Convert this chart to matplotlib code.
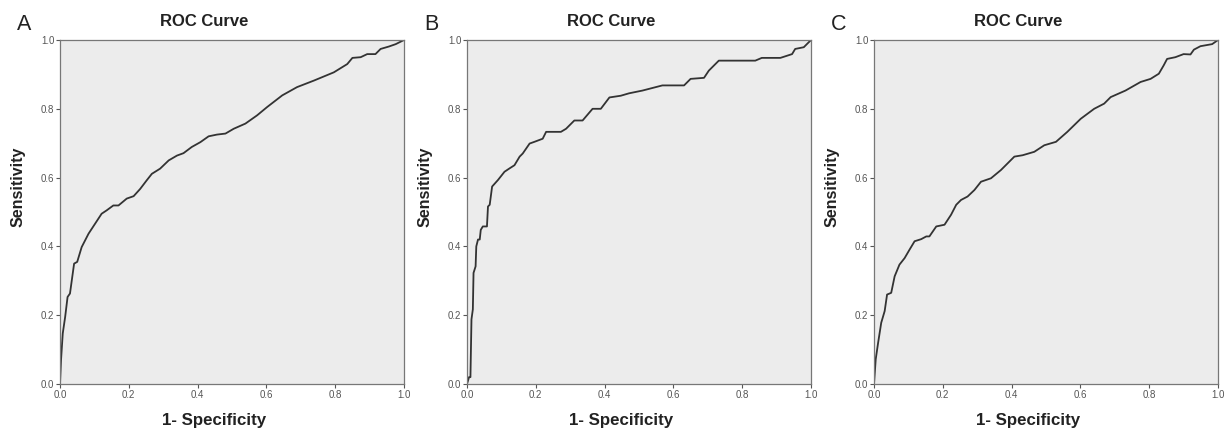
import matplotlib
matplotlib.use("Agg")
import matplotlib.pyplot as plt

plt.rcParams['font.family'] = ['Liberation Sans', 'DejaVu Sans']

# Panel A: 1-specificity, sensitivity
fpr_a = [0, 0.003, 0.008, 0.015, 0.022, 0.029, 0.037, 0.041, 0.05, 0.063, 0.083, 0.102,
         0.121, 0.136, 0.155, 0.17, 0.194, 0.214, 0.233, 0.252, 0.267, 0.291, 0.316, 0.34,
         0.359, 0.383, 0.408, 0.432, 0.456, 0.481, 0.505, 0.539, 0.573, 0.602, 0.646, 0.689,
         0.738, 0.796, 0.835, 0.85, 0.874, 0.893, 0.917, 0.932, 0.956, 0.976, 1.0]
tpr_a = [0, 0.07, 0.147, 0.195, 0.253, 0.263, 0.321, 0.35, 0.355, 0.398, 0.437, 0.466,
         0.495, 0.505, 0.519, 0.519, 0.539, 0.546, 0.567, 0.592, 0.611, 0.626, 0.65, 0.664,
         0.671, 0.689, 0.703, 0.72, 0.725, 0.728, 0.742, 0.757, 0.781, 0.805, 0.839, 0.863,
         0.882, 0.906, 0.93, 0.948, 0.95, 0.959, 0.959, 0.974, 0.981, 0.988, 1.0]

# Panel B
fpr_b = [0, 0.006, 0.01, 0.013, 0.017, 0.019, 0.025, 0.027, 0.032, 0.037, 0.04, 0.046,
         0.058, 0.061, 0.066, 0.073, 0.09, 0.109, 0.124, 0.138, 0.153, 0.162, 0.182, 0.196,
         0.22, 0.23, 0.273, 0.288, 0.312, 0.336, 0.365, 0.389, 0.414, 0.447, 0.471, 0.51,
         0.568, 0.631, 0.65, 0.689, 0.703, 0.718, 0.732, 0.838, 0.857, 0.911, 0.945, 0.954,
         0.979, 1.0]
tpr_b = [0, 0.02, 0.02, 0.188, 0.217, 0.323, 0.342, 0.4, 0.42, 0.42, 0.448, 0.458,
         0.458, 0.516, 0.521, 0.574, 0.593, 0.617, 0.627, 0.636, 0.661, 0.67, 0.699, 0.704,
         0.713, 0.733, 0.733, 0.742, 0.766, 0.766, 0.8, 0.8, 0.833, 0.838, 0.845, 0.853,
         0.868, 0.868, 0.887, 0.89, 0.911, 0.926, 0.94, 0.94, 0.948, 0.948, 0.959, 0.974,
         0.979, 1.0]

# Panel C
fpr_c = [0, 0.005, 0.012, 0.021, 0.031, 0.038, 0.05, 0.06, 0.074, 0.089, 0.103, 0.118,
         0.137, 0.152, 0.161, 0.181, 0.205, 0.224, 0.239, 0.253, 0.272, 0.292, 0.311, 0.34,
         0.369, 0.408, 0.432, 0.466, 0.495, 0.529, 0.562, 0.601, 0.64, 0.669, 0.688, 0.731,
         0.775, 0.804, 0.828, 0.842, 0.852, 0.876, 0.9, 0.92, 0.93, 0.949, 0.983, 1.0]
tpr_c = [0, 0.072, 0.12, 0.178, 0.212, 0.26, 0.265, 0.313, 0.347, 0.366, 0.39, 0.415,
         0.421, 0.429, 0.429, 0.458, 0.463, 0.492, 0.521, 0.535, 0.545, 0.564, 0.588, 0.598,
         0.622, 0.661, 0.665, 0.675, 0.694, 0.704, 0.733, 0.771, 0.8, 0.815, 0.834, 0.853,
         0.878, 0.887, 0.902, 0.926, 0.945, 0.95, 0.959, 0.958, 0.972, 0.982, 0.988, 1.0]

panels = ["A", "B", "C"]
curves = [(fpr_a, tpr_a), (fpr_b, tpr_b), (fpr_c, tpr_c)]
lefts = [60, 467, 874]  # pixel positions of x=0

W, H = 1227, 433
fig = plt.figure(figsize=(W / 100, H / 100), dpi=100)
txt = '#222222'

for letter, (fx, ty), left in zip(panels, curves, lefts):
    ax = fig.add_axes([left / W, (H - 384) / H, 344 / W, 344 / H])
    ax.set_facecolor('#ececec')
    ax.plot(fx, ty, color='#333333', lw=1.3)
    ax.set_xlim(0, 1)
    ax.set_ylim(0, 1)
    ticks = [0.0, 0.2, 0.4, 0.6, 0.8, 1.0]
    ax.set_xticks(ticks)
    ax.set_yticks(ticks)
    ax.set_xticklabels(["%.1f" % t for t in ticks])
    ax.set_yticklabels(["%.1f" % t for t in ticks])
    ax.tick_params(labelsize=7, colors='#555555', length=3, width=0.8, pad=1)
    for s in ax.spines.values():
        s.set_color('#777777')
        s.set_linewidth(0.9)
    # SPSS centres the texts on the whole chart area, so they sit left / above the plot centre
    fig.text((left + 144) / W, (H - 22) / H, "ROC Curve", fontsize=12, fontweight='bold',
             color=txt, ha='center', va='center')
    fig.text((left + 154) / W, (H - 421) / H, "1- Specificity", fontsize=12.2, fontweight='bold',
             color=txt, ha='center', va='center')
    fig.text((left - 42) / W, (H - 187) / H, "Sensitivity", fontsize=11.5, fontweight='bold',
             color=txt, ha='center', va='center', rotation=90)
    fig.text((left - 43) / W, (H - 24) / H, letter, fontsize=15.5, color=txt,
             ha='left', va='center')

fig.savefig("out.png", dpi=100)
